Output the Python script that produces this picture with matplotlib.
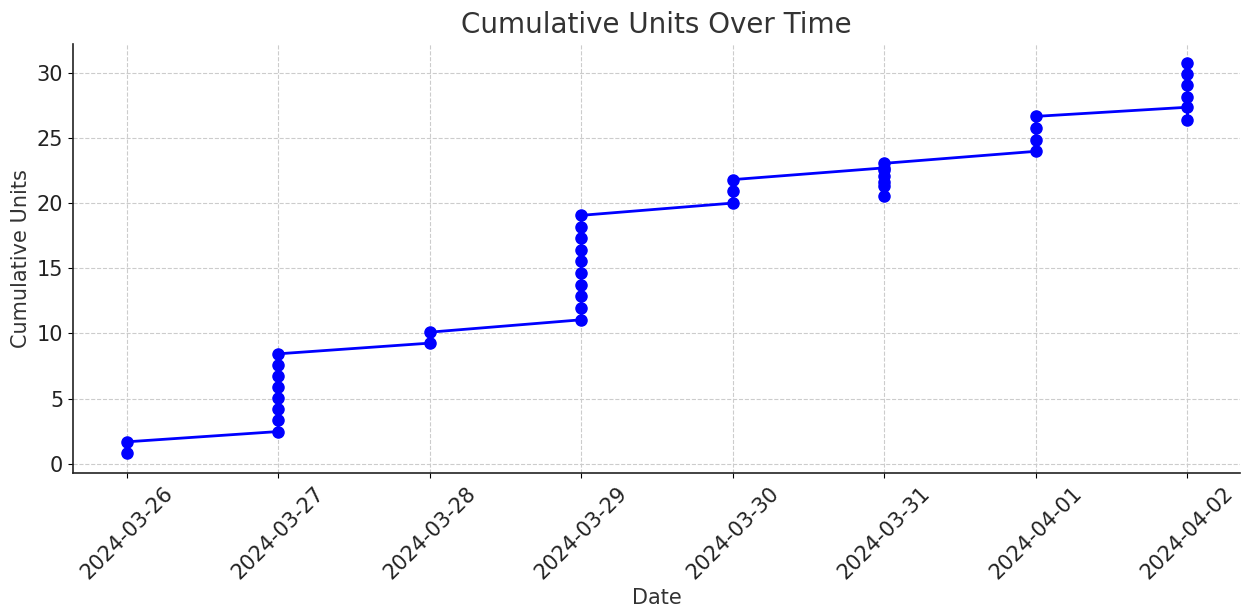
import matplotlib
matplotlib.use("Agg")
import matplotlib.pyplot as plt
import numpy as np
import pandas as pd

# Dates for each record (one entry per point)
point_dates = (
    ["2024-03-26"] * 2
    + ["2024-03-27"] * 8
    + ["2024-03-28"] * 2
    + ["2024-03-29"] * 10
    + ["2024-03-30"] * 3
    + ["2024-03-31"] * 7
    + ["2024-04-01"] * 4
    + ["2024-04-02"] * 6
)

# Cumulative units, in plotting order
cumulative_units = [
    0.84, 1.69,
    2.48, 3.38, 4.20, 5.03, 5.90, 6.77, 7.60, 8.44,
    9.26, 10.10,
    11.05, 11.95, 12.84, 13.74, 14.63, 15.52, 16.42, 17.32, 18.17, 19.06,
    20.00, 20.90, 21.80,
    22.70, 20.55, 21.30, 21.65, 22.10, 22.55, 23.05,
    23.97, 24.87, 25.76, 26.65,
    27.35, 26.40, 28.14, 29.03, 29.90, 30.75,
]

tick_labels = ["2024-03-26", "2024-03-27", "2024-03-28", "2024-03-29",
               "2024-03-30", "2024-03-31", "2024-04-01", "2024-04-02"]

x = pd.to_datetime(point_dates)

fig = plt.figure(figsize=(12.42, 6.09), dpi=100)
ax = fig.add_axes([73 / 1242, 1 - 473 / 609, (1240 - 73) / 1242, (473 - 44) / 609])

ax.plot(x, cumulative_units, color="blue", marker="o", markersize=8, linewidth=2)

ax.set_title("Cumulative Units Over Time", fontsize=20, color="#333333", pad=8)
ax.set_xlabel("Date", fontsize=15, color="#333333", labelpad=4)
ax.set_ylabel("Cumulative Units", fontsize=15, color="#333333")

ticks = pd.to_datetime(tick_labels)
ax.set_xticks(ticks)
ax.set_xticklabels(tick_labels, rotation=45, fontsize=15, color="#222222")
ax.tick_params(axis="y", labelsize=15, labelcolor="#222222")
ax.set_yticks([0, 5, 10, 15, 20, 25, 30])
ax.set_xlim(pd.Timestamp("2024-03-25 15:30"), pd.Timestamp("2024-04-02 08:20"))
ax.set_ylim(-0.7, 32.2)

ax.grid(True, linestyle="--", color="#cccccc", linewidth=0.8)
ax.spines["top"].set_visible(False)
ax.spines["right"].set_visible(False)
for s in ("left", "bottom"):
    ax.spines[s].set_linewidth(1.2)
    ax.spines[s].set_color("#222222")

fig.savefig("out.png", dpi=100)
